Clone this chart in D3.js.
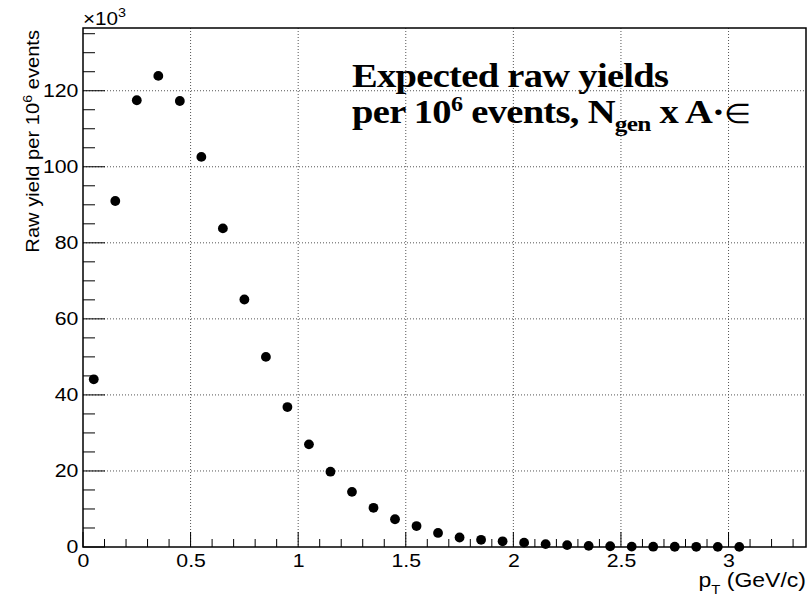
<!DOCTYPE html>
<html><head><meta charset="utf-8">
<script src="https://cdn.jsdelivr.net/npm/d3@7/dist/d3.min.js"></script>
<style>body{margin:0;background:#fff}</style>
</head><body>
<svg id="c" width="811" height="598"></svg>
<script>
const ptCenters = [0.05,0.15,0.25,0.35,0.45,0.55,0.65,0.75,0.85,0.95,1.05,1.15,1.25,1.35,1.45,1.55,1.65,1.75,1.85,1.95,2.05,2.15,2.25,2.35,2.45,2.55,2.65,2.75,2.85,2.95,3.05];
const yields = [44.1,91.0,117.5,123.9,117.3,102.6,83.8,65.1,50.0,36.8,27.0,19.8,14.5,10.3,7.3,5.5,3.7,2.5,1.9,1.5,1.15,0.75,0.5,0.3,0.2,0.1,0.08,0.06,0.05,0.04,0.03];
const xMajorTicks = [0,0.5,1,1.5,2,2.5,3];
const xTickLabels = ["0","0.5","1","1.5","2","2.5","3"];
const yMajorTicks = [0,20,40,60,80,100,120];
const yTickLabels = ["0","20","40","60","80","100","120"];

const svg = d3.select("#c");
const L=83, R=806, T=28, B=547;
const SX = 1.15;
const x = d3.scaleLinear().domain([0,3.36]).range([L,R]);
const y = d3.scaleLinear().domain([0,136.5]).range([B,T]);
const sans = "'Liberation Sans', Arial, Helvetica, sans-serif";
const serif = "'Liberation Serif', 'Times New Roman', serif";

// grid
const g = svg.append("g");
g.selectAll("line.vg").data(xMajorTicks.filter(d=>d>0)).enter().append("line")
  .attr("x1",d=>x(d)).attr("x2",d=>x(d)).attr("y1",T).attr("y2",B)
  .attr("stroke","#555").attr("stroke-width",1).attr("stroke-dasharray","1,2");
g.selectAll("line.hg").data(yMajorTicks.filter(d=>d>0)).enter().append("line")
  .attr("x1",L).attr("x2",R).attr("y1",d=>y(d)).attr("y2",d=>y(d))
  .attr("stroke","#555").attr("stroke-width",1).attr("stroke-dasharray","1,2");

// x axis
const xMinor = d3.range(0,3.36,0.1).filter(v=>Math.abs(v*2-Math.round(v*2))>1e-6);
const xAxis = d3.axisBottom(x).tickValues(xMajorTicks).tickFormat((d,i)=>xTickLabels[i]).tickSize(0).tickPadding(7);
const xa = svg.append("g").attr("transform",`translate(0,${B})`).call(xAxis);
xa.select(".domain").remove();
xa.selectAll("text").attr("font-family",sans).attr("font-size",18.5).attr("fill","#000")
  .attr("transform",`scale(${SX},1)`);
svg.append("g").selectAll("line").data(xMajorTicks).enter().append("line")
  .attr("x1",d=>x(d)).attr("x2",d=>x(d)).attr("y1",B).attr("y2",B-15).attr("stroke","#000");
svg.append("g").selectAll("line").data(xMinor).enter().append("line")
  .attr("x1",d=>x(d)).attr("x2",d=>x(d)).attr("y1",B).attr("y2",B-8).attr("stroke","#000");

// y axis
const yMinor = d3.range(5,136,5).filter(v=>v%20!==0);
const yAxis = d3.axisLeft(y).tickValues(yMajorTicks).tickFormat((d,i)=>yTickLabels[i]).tickSize(0).tickPadding(4);
const ya = svg.append("g").attr("transform",`translate(${L},0)`).call(yAxis);
ya.select(".domain").remove();
ya.selectAll("text").attr("font-family",sans).attr("font-size",18.5).attr("fill","#000")
  .attr("transform",`scale(${SX},1)`);
svg.append("g").selectAll("line").data(yMajorTicks).enter().append("line")
  .attr("x1",L).attr("x2",L+22).attr("y1",d=>y(d)).attr("y2",d=>y(d)).attr("stroke","#000");
svg.append("g").selectAll("line").data(yMinor).enter().append("line")
  .attr("x1",L).attr("x2",L+12).attr("y1",d=>y(d)).attr("y2",d=>y(d)).attr("stroke","#000");

// frame
svg.append("rect").attr("x",L).attr("y",T).attr("width",R-L).attr("height",B-T)
  .attr("fill","none").attr("stroke","#000").attr("stroke-width",1.5);

// points
svg.append("g").selectAll("circle").data(ptCenters).enter().append("circle")
  .attr("cx",d=>x(d)).attr("cy",(d,i)=>y(yields[i])).attr("r",4.9).attr("fill","#000");

// x10^3
const e3 = svg.append("text").attr("transform",`translate(${L},25) scale(${SX},1)`)
  .attr("font-family",sans).attr("font-size",18);
e3.append("tspan").text("×10");
e3.append("tspan").attr("dy",-8).attr("font-size",12.5).text("3");

// y title
const yt = svg.append("text").attr("transform",`translate(39,${T+2}) rotate(-90) scale(${SX},1)`)
  .attr("text-anchor","end").attr("font-family",sans).attr("font-size",17.5);
yt.append("tspan").text("Raw yield per 10");
yt.append("tspan").attr("dy",-7).attr("font-size",12.5).text("6");
yt.append("tspan").attr("dy",7).text(" events");

// x title
const xt = svg.append("text").attr("transform",`translate(${R},587) scale(${SX},1)`).attr("text-anchor","end")
  .attr("font-family",sans).attr("font-size",20);
xt.append("tspan").text("p");
xt.append("tspan").attr("dy",7).attr("font-size",13).text("T");
xt.append("tspan").attr("dy",-7).text(" (GeV/c)");

// annotation
const t1 = svg.append("text").attr("transform",`translate(352,87) scale(${SX},1)`).attr("font-family",serif)
  .attr("font-weight","bold").attr("font-size",33.5).attr("letter-spacing",-0.6).text("Expected raw yields");
const t2 = svg.append("text").attr("transform",`translate(352,123) scale(${SX},1)`).attr("font-family",serif)
  .attr("font-weight","bold").attr("font-size",33.5).attr("letter-spacing",-0.6);
t2.append("tspan").text("per 10");
t2.append("tspan").attr("dy",-12).attr("font-size",21).text("6");
t2.append("tspan").attr("dy",12).text(" events, N");
t2.append("tspan").attr("dy",8).attr("font-size",22).text("gen");
t2.append("tspan").attr("dy",-8).text(" x A·");
t2.append("tspan").attr("font-weight","normal").attr("font-size",27).text("∈");
</script>
</body></html>
